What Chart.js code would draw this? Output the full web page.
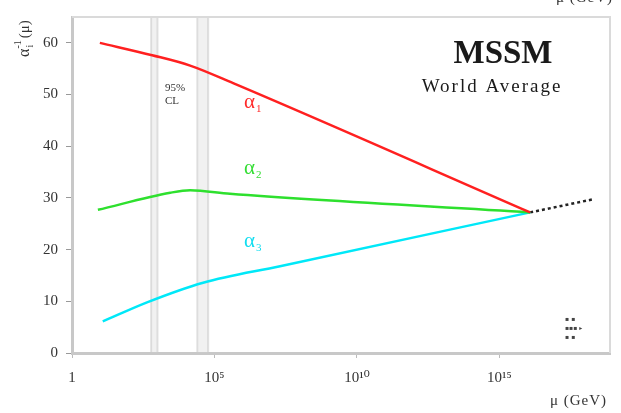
<!DOCTYPE html>
<html>
<head>
<meta charset="utf-8">
<script src="https://cdn.jsdelivr.net/npm/chart.js@4.4.1/dist/chart.umd.min.js"></script>
<style>
html,body{margin:0;padding:0;background:#fff;}
#wrap{width:621px;height:413px;position:relative;}
</style>
</head>
<body>
<div id="wrap"><canvas id="c" width="621" height="413"></canvas></div>
<script>
// ---- data (mu in GeV, values are inverse couplings alpha_i^-1) ----
const alpha1Mu  = [9.5, 650, 1.4e4, 4.5e5, 1.2e16];
const alpha1Inv = [60.0, 57.6, 55.6, 52.2, 27.2];
const alpha2Mu  = [8.1, 2.8e3, 1.4e4, 3.5e5, 1.2e16];
const alpha2Inv = [27.7, 31.0, 31.5, 30.8, 27.2];
const alpha3Mu  = [12, 430, 4.0e4, 2.0e7, 1.2e16];
const alpha3Inv = [6.1, 9.8, 13.6, 16.8, 27.2];
const extrapMu  = [1.2e16, 2.2e18];
const extrapInv = [27.2, 29.8];
// SUSY threshold (95% CL) band edges in GeV
const bandLow  = [6.0e2, 1.0e3];
const bandHigh = [2.5e4, 6.0e4];
// axis ticks
const xTickValues = [1, 1e5, 1e10, 1e15];
const xTickLabels = ['1', '10\u2075', '10\u00B9\u2070', '10\u00B9\u2075'];
const yTickValues = [0, 10, 20, 30, 40, 50, 60];

const SERIF = '"Liberation Serif", "DejaVu Serif", serif';

function pts(xs, ys){ return xs.map((x,i)=>({x:x, y:ys[i]})); }

const overlay = {
  id: 'overlay',
  beforeDatasetsDraw(chart){
    const ctx = chart.ctx, xs = chart.scales.x, a = chart.chartArea;
    ctx.save();
    ctx.fillStyle = 'rgba(210,210,210,0.3)';
    [bandLow, bandHigh].forEach(b=>{
      const x0 = xs.getPixelForValue(b[0]), x1 = xs.getPixelForValue(b[1]);
      ctx.fillRect(x0, a.top, x1-x0, a.bottom-a.top);
    });
    ctx.strokeStyle = 'rgba(200,200,200,0.55)';
    ctx.lineWidth = 2;
    [bandLow, bandHigh].forEach(b=>{
      b.forEach(v=>{
        const x = xs.getPixelForValue(v);
        ctx.beginPath(); ctx.moveTo(x, a.top); ctx.lineTo(x, a.bottom); ctx.stroke();
      });
    });
    // frame top / right (faint)
    ctx.strokeStyle = '#dadada'; ctx.lineWidth = 2;
    ctx.beginPath(); ctx.moveTo(a.left, a.top); ctx.lineTo(a.right, a.top); ctx.lineTo(a.right, a.bottom); ctx.stroke();
    ctx.restore();
  },
  afterDraw(chart){
    const ctx = chart.ctx;
    ctx.save();
    ctx.textBaseline = 'alphabetic';
    // Title
    ctx.fillStyle = '#1a1a1a';
    ctx.font = 'bold 33px ' + SERIF;
    ctx.textAlign = 'center';
    ctx.fillText('MSSM', 503, 63);
    ctx.font = '19px ' + SERIF;
    ctx.letterSpacing = '2px';
    ctx.fillText('World Average', 492, 92);
    ctx.letterSpacing = '0px';
    // 95% CL
    ctx.font = '11px ' + SERIF;
    ctx.textAlign = 'left';
    ctx.fillStyle = '#333';
    ctx.fillText('95%', 165, 91);
    ctx.fillText('CL', 165, 104);
    // alpha labels
    const lab = (txt, sub, x, y, col)=>{
      ctx.fillStyle = col;
      ctx.font = '21px ' + SERIF;
      ctx.textAlign = 'left';
      ctx.fillText(txt, x, y);
      const w = ctx.measureText(txt).width;
      ctx.font = '11px ' + SERIF;
      ctx.fillText(sub, x + w + 1, y + 4);
    };
    lab('\u03B1', '1', 244, 108, '#ff2a2a');
    lab('\u03B1', '2', 244, 174, '#33dd33');
    lab('\u03B1', '3', 244, 247, '#11ddf0');
    // x-axis title
    ctx.fillStyle = '#333';
    ctx.font = '15px ' + SERIF;
    ctx.letterSpacing = '1px';
    ctx.textAlign = 'left';
    ctx.fillText('\u03BC (GeV)', 550, 405);
    // cropped copy at top-right
    ctx.fillText('\u03BC (GeV)', 556, 2);
    ctx.letterSpacing = '0px';
    // y-axis title (rotated)
    ctx.translate(29, 57);
    ctx.rotate(-Math.PI/2);
    ctx.font = '16px ' + SERIF;
    ctx.fillText('\u03B1', 0, 0);
    let w = ctx.measureText('\u03B1').width;
    ctx.font = '10px ' + SERIF;
    ctx.fillText('i', w + 1, 4);
    ctx.fillText('-1', w, -8);
    let w2 = ctx.measureText('-1').width;
    ctx.font = '15px ' + SERIF;
    ctx.fillText('(\u03BC)', w + w2 + 2, 0);
    ctx.restore();
    // tiny legend marks at bottom right
    ctx.save();
    ctx.fillStyle = '#444';
    ctx.font = 'bold 6px "DejaVu Sans", sans-serif';
    ctx.textAlign = 'left';
    ctx.fillText('\u25AA \u25AA', 565, 321);
    ctx.fillText('\u25AA\u25AA\u25AA \u25B8', 565, 330);
    ctx.fillText('\u25AA \u25AA', 565, 339);
    ctx.restore();
  }
};

new Chart(document.getElementById('c'), {
  type: 'line',
  data: {
    datasets: [
      {data: pts(alpha1Mu, alpha1Inv), borderColor: '#ff2020', borderWidth: 2.5, pointRadius: 0, tension: 0.2, cubicInterpolationMode: 'monotone'},
      {data: pts(alpha2Mu, alpha2Inv), borderColor: '#2ee02e', borderWidth: 2.5, pointRadius: 0, tension: 0.2, cubicInterpolationMode: 'monotone'},
      {data: pts(alpha3Mu, alpha3Inv), borderColor: '#00e8f8', borderWidth: 2.5, pointRadius: 0, tension: 0.2, cubicInterpolationMode: 'monotone'},
      {data: pts(extrapMu, extrapInv), borderColor: '#222', borderWidth: 2.5, borderDash: [3,3], pointRadius: 0}
    ]
  },
  options: {
    responsive: false,
    animation: false,
    layout: {padding: {left: 0, right: 11, top: 13, bottom: 0}},
    plugins: {legend: {display: false}, tooltip: {enabled: false}},
    scales: {
      x: {
        type: 'logarithmic',
        min: 1,
        max: 7.6e18,
        afterBuildTicks(s){ s.ticks = xTickValues.map(v=>({value:v})); },
        afterFit(s){ s.height = 60; },
        grid: {display: true, drawOnChartArea: false, tickLength: 5, color: '#bbb'},
        border: {color: '#c8c8c8', width: 3},
        ticks: {
          autoSkip: false, maxRotation: 0, padding: 11,
          color: '#333', font: {family: SERIF, size: 15},
          callback(v){ const i = xTickValues.indexOf(v); return i >= 0 ? xTickLabels[i] : ''; }
        }
      },
      y: {
        type: 'linear',
        min: 0,
        max: 65,
        afterBuildTicks(s){ s.ticks = yTickValues.map(v=>({value:v})); },
        afterFit(s){ s.width = 72; },
        grid: {display: true, drawOnChartArea: false, tickLength: 6, color: '#999'},
        border: {color: '#c8c8c8', width: 3},
        ticks: {color: '#333', padding: 8, font: {family: SERIF, size: 15}}
      }
    }
  },
  plugins: [overlay]
});
</script>
</body>
</html>
